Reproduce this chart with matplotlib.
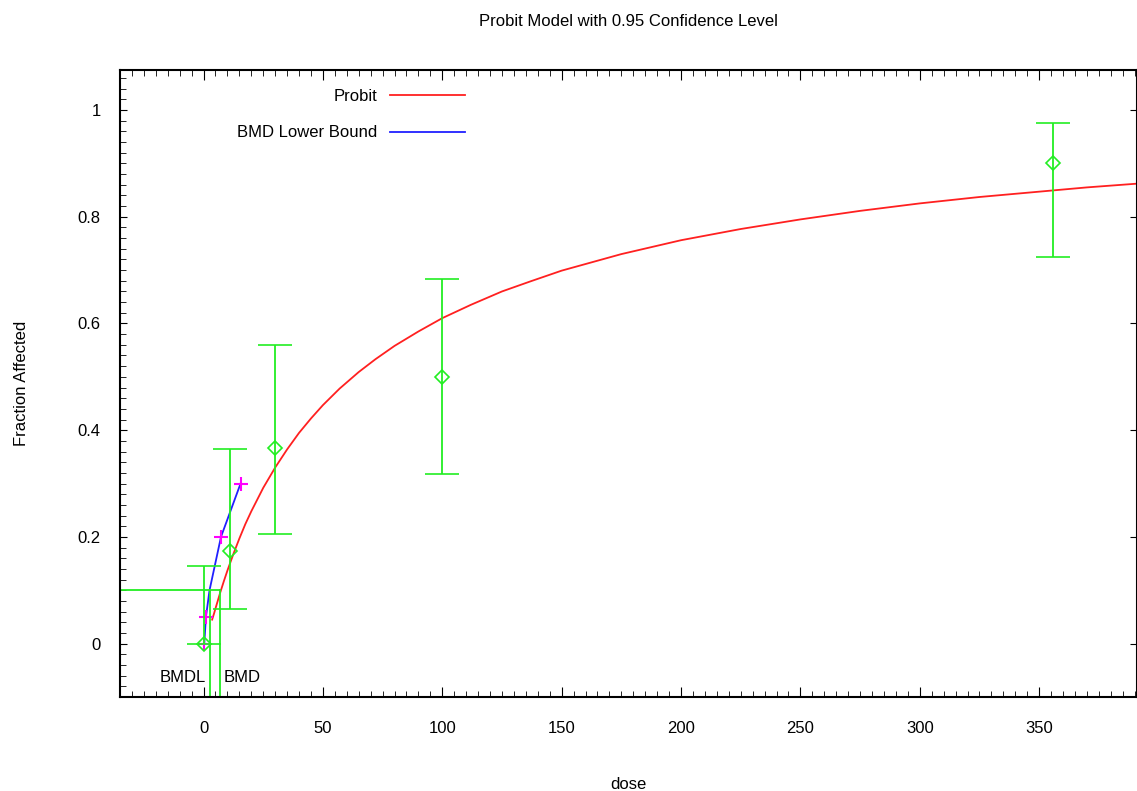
import numpy as np
import matplotlib.pyplot as plt
from matplotlib.ticker import MultipleLocator

plt.rcParams['font.family'] = ['Liberation Sans', 'DejaVu Sans']

# observed data with 95% confidence limits
dose = [0, 11, 30, 100, 356]
frac = [0.0, 0.174, 0.367, 0.5, 0.9]
lower = [0.0, 0.065, 0.205, 0.318, 0.724]
upper = [0.145, 0.365, 0.56, 0.683, 0.975]

# fitted probit curve
fit_dose = [3.6, 4.5, 5, 6, 7, 8.5, 10, 12.5, 15, 17.5, 20, 25, 30, 35, 40,
            45, 50, 57, 65, 72, 80, 90, 100, 112, 125, 137, 150, 175, 200,
            225, 250, 275, 300, 325, 350, 370, 391]
fit_frac = [0.045, 0.058, 0.066, 0.081, 0.096, 0.117, 0.137, 0.168, 0.197,
            0.224, 0.248, 0.292, 0.330, 0.364, 0.395, 0.422, 0.447, 0.478,
            0.509, 0.533, 0.558, 0.585, 0.610, 0.635, 0.660, 0.679, 0.699,
            0.730, 0.756, 0.777, 0.795, 0.811, 0.825, 0.837, 0.847, 0.855,
            0.862]

# BMD lower bound curve
lb_dose = [0.3, 1.0, 2.5, 7.3, 15.5]
lb_frac = [0.0, 0.05, 0.1, 0.2, 0.3]
lb_pts_dose = [0.3, 1.0, 7.3, 15.5]
lb_pts_frac = [0.0, 0.05, 0.2, 0.3]

bmr = 0.1
bmdl = 2.5
bmd = 7.0

xmin, xmax = -35, 391
ymin, ymax = -0.1, 1.075

green = '#22ee22'

fig = plt.figure(figsize=(11.37, 7.91), dpi=100)
ax = fig.add_axes([120/1137, 1 - 697/791, 1 - 120/1137, (697 - 70)/791])

ax.plot(fit_dose, fit_frac, color='#ff2020', linewidth=1.3, label='Probit')
ax.plot(lb_dose, lb_frac, color='#2020ff', linewidth=1.3, label='BMD Lower Bound')
ax.plot(lb_pts_dose, lb_pts_frac, linestyle='none', marker='+', color='#ff00ff',
        markersize=10, markeredgewidth=1.5)

err = [np.array(frac) - np.array(lower), np.array(upper) - np.array(frac)]
ax.errorbar(dose, frac, yerr=err, fmt='D', color=green, mfc='none',
            mec=green, markersize=7, capsize=12, elinewidth=1.3,
            capthick=1.3, markeredgewidth=1.2)

# BMD / BMDL indicator lines
ax.plot([xmin, bmd], [bmr, bmr], color=green, linewidth=1.3)
ax.plot([bmdl, bmdl], [ymin, bmr], color=green, linewidth=1.3)
ax.plot([bmd, bmd], [ymin, bmr], color=green, linewidth=1.3)
ax.text(bmdl - 1.5, -0.064, 'BMDL', ha='right', va='center', fontsize=12)
ax.text(bmd + 1.5, -0.064, 'BMD', ha='left', va='center', fontsize=12)

ax.set_xlim(xmin, xmax)
ax.set_ylim(ymin, ymax)
ax.xaxis.set_major_locator(MultipleLocator(50))
ax.xaxis.set_minor_locator(MultipleLocator(5))
ax.yaxis.set_major_locator(MultipleLocator(0.2))
ax.yaxis.set_minor_locator(MultipleLocator(0.02))
ax.set_yticks([0, 0.2, 0.4, 0.6, 0.8, 1.0])
ax.set_yticklabels(['0', '0.2', '0.4', '0.6', '0.8', '1'])
ax.tick_params(axis='x', which='major', direction='in', top=True, length=7,
               pad=17, labelsize=12)
ax.tick_params(axis='y', which='major', direction='in', right=True, length=5,
               pad=14, labelsize=12)
ax.tick_params(which='minor', direction='in', top=True, length=4)
ax.tick_params(axis='y', which='minor', right=False)
for s in ax.spines.values():
    s.set_linewidth(1.5)

ax.set_xlabel('dose', fontsize=12, labelpad=30)
ax.set_ylabel('Fraction Affected', fontsize=12, labelpad=35)
fig.suptitle('Probit Model with 0.95 Confidence Level', x=0.553, y=0.982,
             fontsize=12)

ax.legend(loc='upper left', bbox_to_anchor=(0.1, 0.994), frameon=False,
          markerfirst=False, handlelength=4.5, fontsize=12, labelspacing=1.3)

fig.savefig('out.png', dpi=100)
